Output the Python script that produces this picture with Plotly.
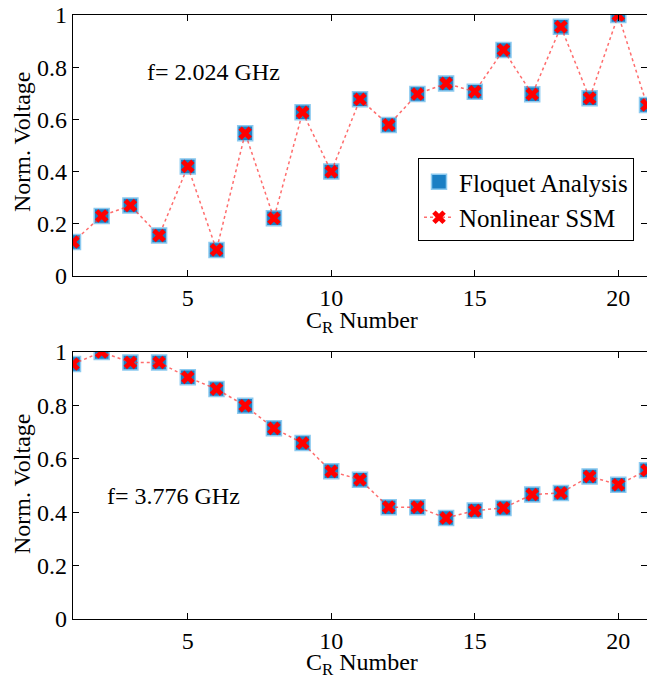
import plotly.graph_objects as go

cr_number = list(range(1, 22))
top_floquet = [0.13, 0.23, 0.27, 0.155, 0.42, 0.10, 0.547, 0.221, 0.627, 0.40, 0.677,
               0.579, 0.697, 0.738, 0.706, 0.866, 0.696, 0.955, 0.681, 1.0, 0.655]
top_ssm = list(top_floquet)
bot_floquet = [0.955, 1.0, 0.961, 0.961, 0.905, 0.861, 0.799, 0.714, 0.659, 0.553, 0.522,
               0.419, 0.419, 0.378, 0.406, 0.416, 0.466, 0.472, 0.534, 0.503, 0.557]
bot_ssm = list(bot_floquet)
x_ticks = [5, 10, 15, 20]
y_ticks = [0, 0.2, 0.4, 0.6, 0.8, 1]
y_ticktext = ["0", "0.2", "0.4", "0.6", "0.8", "1"]

W, H = 647, 679
FONT = "Liberation Serif"
BLUE = "#1a7fc4"
BLUE_EDGE = "#8ccaf0"
RED = "#ff0000"
LINE_RED = "rgba(255,60,60,0.75)"

fig = go.Figure()

def add_panel(xa, ya, floq, ssm, show):
    fig.add_trace(go.Scatter(x=cr_number, y=floq, mode="markers", name="Floquet Analysis",
                             xaxis=xa, yaxis=ya, showlegend=show,
                             marker=dict(symbol="square", size=15, color=BLUE,
                                         line=dict(color=BLUE_EDGE, width=1.5))))
    fig.add_trace(go.Scatter(x=cr_number, y=ssm, mode="lines+markers", name="Nonlinear SSM",
                             xaxis=xa, yaxis=ya, showlegend=show,
                             line=dict(color=LINE_RED, width=1.5, dash="dot"),
                             marker=dict(symbol="x", size=12, color=RED,
                                         line=dict(width=0))))

add_panel("x", "y", top_floquet, top_ssm, True)
add_panel("x2", "y2", bot_floquet, bot_ssm, False)

def px(x):
    return x / W

def py(y):
    return 1 - y / H

axis_common = dict(showline=True, linecolor="black", linewidth=1.2, mirror="allticks",
                   ticks="inside", ticklen=6, tickcolor="black", showgrid=False,
                   zeroline=False, automargin=False,
                   tickfont=dict(family=FONT, size=24, color="black"))

xdom = [px(73), 1.0]
fig.update_layout(
    width=W, height=H, margin=dict(l=0, r=0, t=0, b=0),
    plot_bgcolor="white", paper_bgcolor="white",
    font=dict(family=FONT, size=24, color="black"),
    xaxis=dict(domain=xdom, range=[1, 21], tickvals=x_ticks, anchor="y", **axis_common),
    yaxis=dict(domain=[py(276), py(15)], range=[0, 1], tickvals=y_ticks,
               ticktext=y_ticktext, anchor="x", **axis_common),
    xaxis2=dict(domain=xdom, range=[1, 21], tickvals=x_ticks, anchor="y2", **axis_common),
    yaxis2=dict(domain=[py(619), py(352)], range=[0, 1], tickvals=y_ticks,
                ticktext=y_ticktext, anchor="x2", **axis_common),
    legend=dict(x=px(418), y=py(158), xanchor="left", yanchor="top",
                bgcolor="white", bordercolor="black", borderwidth=1,
                font=dict(family=FONT, size=25, color="black"),
                tracegroupgap=0, itemwidth=30),
    showlegend=True,
)

annots = [
    dict(text="f= 2.024 GHz", x=px(145), y=py(72), xanchor="left", yanchor="middle"),
    dict(text="f= 3.776 GHz", x=px(105), y=py(496), xanchor="left", yanchor="middle"),
    dict(text="Norm. Voltage", x=px(22), y=py(142), textangle=-90, xanchor="center", yanchor="middle"),
    dict(text="Norm. Voltage", x=px(22), y=py(484), textangle=-90, xanchor="center", yanchor="middle"),
    dict(text="C<sub>R</sub> Number", x=px(362), y=py(322), xanchor="center", yanchor="middle"),
    dict(text="C<sub>R</sub> Number", x=px(362), y=py(664), xanchor="center", yanchor="middle"),
]
for a in annots:
    fig.add_annotation(xref="paper", yref="paper", showarrow=False,
                       font=dict(family=FONT, size=24, color="black"), **a)

fig.write_html("out.html")
